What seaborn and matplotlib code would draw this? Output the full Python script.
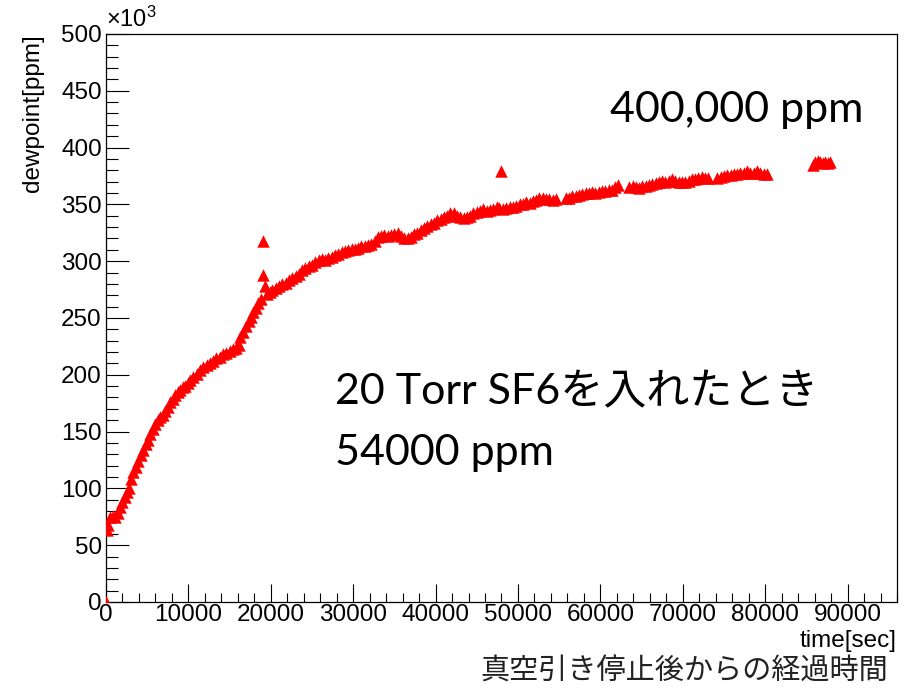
import seaborn as sns
import numpy as np
import pandas as pd
import matplotlib
matplotlib.use('Agg')
import matplotlib.pyplot as plt
from matplotlib.ticker import MultipleLocator

# time after the vacuum pump was stopped [sec]
time_sec = [
    0, 100, 300, 500, 800, 1100, 1400, 1700, 2000, 2300, 2600, 2800,
    3000, 3300, 3600, 3900, 4200, 4500, 4800, 5100, 5400, 5700, 6000,
    6300, 6600, 6900, 7200, 7500, 7800, 8100, 8400, 8700, 9000, 9300,
    9600, 9900, 10200, 10600, 11000, 11400, 11800, 12200, 12600, 13000,
    13400, 13800, 14200, 14600, 15000, 15400, 15800, 16100, 16300, 16600,
    17000, 17300, 17600, 17900, 18200, 18500, 18800, 19000, 19100, 19300,
    19600, 19900, 20200, 20600, 21000, 21400, 21800, 22200, 22600, 23000,
    23400, 23800, 24200, 24600, 25000, 25400, 25800, 26200, 26600, 27000,
    27400, 27800, 28200, 28600, 29000, 29400, 29800, 30200, 30600, 31000,
    31400, 31800, 32200, 32600, 33000, 33400, 33800, 34200, 34600, 35000,
    35400, 35800, 36200, 36600, 37000, 37400, 37800, 38200, 38600, 39000,
    39400, 39800, 40200, 40600, 41000, 41400, 41800, 42200, 42600, 43000,
    43400, 43800, 44200, 44600, 45000, 45400, 45800, 46200, 46600, 47000,
    47400, 47700, 47900, 48200, 48600, 49000, 49400, 49800, 50200, 50600,
    51000, 51400, 51800, 52200, 52600, 53000, 53400, 53800, 54200, 54600,
    55800, 56200, 56600, 57000, 57400, 57800, 58200, 58600, 59000, 59400,
    59800, 60200, 60600, 61000, 61400, 61800, 62200,
    63500, 63900, 64300, 64700, 65100, 65500, 65900, 66300, 66700, 67100,
    67500, 67900, 68300, 68700, 69100, 69500, 69900, 70300, 70700, 71100,
    71500, 71900, 72300, 72700, 73100,
    74200, 74600, 75000, 75400, 75800, 76200, 76600, 77000, 77400, 77800,
    78200, 78600, 79000, 79400, 79800, 80200,
    85800, 86100, 86400, 86700, 87000, 87300, 87600, 87900,
]

# dewpoint reading in units of 10^3 ppm
dewpoint_kppm = [
    0, 63, 68, 75, 76, 75, 78, 84, 88, 92, 97, 100,
    108, 114, 119, 124, 129, 134, 139, 143, 148, 152, 157,
    160, 163, 165, 168, 172, 176, 179, 182, 185, 187, 189,
    190, 193, 195, 198, 201, 204, 207, 209, 210, 212,
    215, 216, 218, 219, 221, 223, 224, 226, 233, 238,
    243, 247, 251, 255, 259, 263, 267, 318, 288, 278,
    271, 273, 275, 276, 278, 280, 281, 283, 285, 287,
    289, 292, 294, 296, 297, 299, 301, 302, 301, 303,
    304, 305, 306, 308, 309, 310, 311, 311, 312, 313,
    313, 314, 315, 318, 321, 322, 323, 322, 323, 324,
    325, 322, 320, 320, 321, 324, 325, 327, 329, 331,
    333, 334, 336, 337, 339, 340, 342, 342, 340, 339,
    338, 339, 340, 342, 343, 344, 346, 344, 345, 346,
    348, 347, 379, 346, 347, 348, 348, 349, 350, 350,
    352, 351, 353, 354, 356, 356, 355, 355, 354, 355,
    356, 356, 357, 357, 358, 359, 360, 360, 361, 360,
    361, 362, 362, 363, 363, 365, 367,
    365, 366, 365, 364, 366, 366, 367, 368, 369, 370,
    371, 370, 371, 372, 371, 370, 370, 370, 371, 372,
    372, 373, 374, 373, 373,
    373, 374, 375, 376, 376, 377, 377, 378, 378, 379,
    378, 378, 379, 378, 377, 377,
    385, 387, 388, 387, 386, 387, 386, 387,
]

df = pd.DataFrame({'time': time_sec, 'dewpoint': dewpoint_kppm})

sns.set_style('white')
plt.rcParams['font.family'] = ['Liberation Sans', 'DejaVu Sans']
plt.rcParams['text.color'] = 'black'
plt.rcParams['mathtext.fontset'] = 'custom'
plt.rcParams['mathtext.rm'] = 'Liberation Sans'
plt.rcParams['mathtext.it'] = 'Liberation Sans'

fig = plt.figure(figsize=(9.09, 6.89), dpi=100)
ax = fig.add_axes([0.1166, 0.1263, 0.8702, 0.8244])

sns.scatterplot(data=df, x='time', y='dewpoint', marker='^', color='red',
                s=80, linewidth=0, ax=ax, legend=False, zorder=3)

ax.set_xlim(0, 96000)
ax.set_ylim(0, 500)

# ROOT-like ticks: inward, only bottom and left
ax.xaxis.set_major_locator(MultipleLocator(10000))
ax.xaxis.set_minor_locator(MultipleLocator(2000))
ax.yaxis.set_major_locator(MultipleLocator(50))
ax.yaxis.set_minor_locator(MultipleLocator(10))
ax.tick_params(which='both', bottom=True, left=True, top=False, right=False,
               color='black')
ax.tick_params(axis='x', which='major', direction='in', length=13, width=0.8,
               labelsize=17.5, pad=1.5, labelcolor='black')
ax.tick_params(axis='x', which='minor', direction='in', length=6.5, width=0.8)
ax.tick_params(axis='y', which='major', direction='in', length=16.5, width=0.8,
               labelsize=17.5, pad=3, labelcolor='black')
ax.tick_params(axis='y', which='minor', direction='in', length=8.5, width=0.8)

for sp in ax.spines.values():
    sp.set_color('black')
    sp.set_linewidth(0.9)
    sp.set_visible(True)

ax.set_xlabel('')
ax.set_ylabel('')

# axis titles placed like ROOT
ax.text(1.0, -0.069, 'time[sec]', transform=ax.transAxes, ha='right',
        va='center', fontsize=17.5)
fig.text(0.036, 0.9507, 'dewpoint[ppm]', rotation=90, ha='center',
         va='top', fontsize=17.5)
ax.text(0.0, 1.003, r'$\times10^{3}$', transform=ax.transAxes, ha='left',
        va='bottom', fontsize=17)

# annotations
note_font = ['Lato', 'Noto Sans CJK JP', 'DejaVu Sans']
fig.text(0.671, 0.841, '400,000 ppm', family=note_font, fontsize=31,
         ha='left', va='center')
fig.text(0.369, 0.431, '20 Torr SF6を入れたとき', family=note_font,
         fontsize=31, ha='left', va='center')
fig.text(0.369, 0.342, '54000 ppm', family=note_font, fontsize=31,
         ha='left', va='center')
fig.text(0.528, 0.025, '真空引き停止後からの経過時間',
         family=['Noto Sans CJK JP', 'DejaVu Sans'], fontsize=21,
         ha='left', va='center', color='#222222')

fig.savefig('out.png', dpi=100)
